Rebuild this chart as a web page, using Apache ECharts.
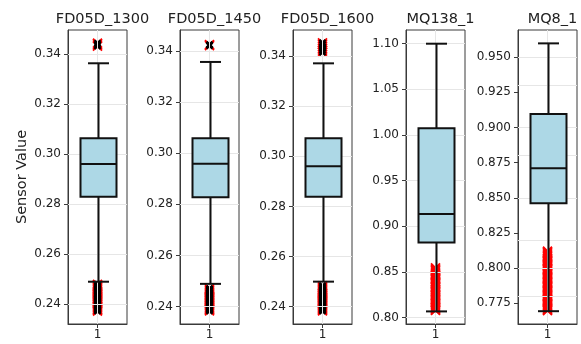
<!DOCTYPE html>
<html>
<head>
<meta charset="utf-8">
<script src="https://cdn.jsdelivr.net/npm/echarts@6/dist/echarts.min.js"></script>
<style>
html,body{margin:0;padding:0;background:#fff;}
#chart{width:581px;height:344px;}
</style>
</head>
<body>
<div id="chart"></div>
<script>
// ---- data ----
const panelNames = ['FD05D_1300', 'FD05D_1450', 'FD05D_1600', 'MQ138_1', 'MQ8_1'];
const categories = ['1'];
// [lower whisker, Q1, median, Q3, upper whisker]
const stats_FD05D_1300 = [0.2489, 0.2829, 0.2959, 0.3062, 0.3362];
const stats_FD05D_1450 = [0.2489, 0.2828, 0.2959, 0.3059, 0.3357];
const stats_FD05D_1600 = [0.2500, 0.2839, 0.2960, 0.3072, 0.3371];
const stats_MQ138_1 = [0.8069, 0.8824, 0.9135, 1.0073, 1.1000];
const stats_MQ8_1 = [0.7694, 0.8461, 0.8709, 0.9095, 0.9597];

const outliers_FD05D_1300 = [0.3431, 0.3436, 0.3442,
  0.2478, 0.2474, 0.2469, 0.2466, 0.2461, 0.2457, 0.2452, 0.2449, 0.2444, 0.2440, 0.2436,
  0.2431, 0.2427, 0.2422, 0.2419, 0.2414, 0.2410, 0.2405, 0.2401, 0.2397, 0.2392, 0.2388,
  0.2384, 0.2379, 0.2376, 0.2372];
const outliers_FD05D_1450 = [0.3421, 0.3425,
  0.2470, 0.2466, 0.2462, 0.2457, 0.2453, 0.2449, 0.2445, 0.2441, 0.2436, 0.2432, 0.2428,
  0.2424, 0.2419, 0.2415, 0.2411, 0.2407, 0.2403, 0.2398, 0.2394, 0.2390, 0.2387, 0.2383];
const outliers_FD05D_1600 = [0.3416, 0.3424, 0.3431, 0.3438, 0.3446, 0.3453,
  0.2483, 0.2478, 0.2474, 0.2469, 0.2465, 0.2460, 0.2456, 0.2452, 0.2447, 0.2443, 0.2438,
  0.2434, 0.2430, 0.2425, 0.2421, 0.2417, 0.2412, 0.2408, 0.2404, 0.2399, 0.2395, 0.2391,
  0.2387, 0.2383];
const outliers_MQ138_1 = [0.8546, 0.8531, 0.8518, 0.8502, 0.8489, 0.8473, 0.8461, 0.8444,
  0.8430, 0.8417, 0.8401, 0.8388, 0.8372, 0.8359, 0.8343, 0.8330, 0.8314, 0.8301, 0.8286,
  0.8272, 0.8257, 0.8243, 0.8228, 0.8214, 0.8199, 0.8185, 0.8170, 0.8156, 0.8141, 0.8127,
  0.8112, 0.8098, 0.8086, 0.8079];
const outliers_MQ8_1 = [0.8120, 0.8111, 0.8101, 0.8092, 0.8084, 0.8073, 0.8065, 0.8054,
  0.8046, 0.8036, 0.8027, 0.8018, 0.8008, 0.7999, 0.7990, 0.7981, 0.7971, 0.7962, 0.7953,
  0.7943, 0.7935, 0.7925, 0.7916, 0.7907, 0.7897, 0.7889, 0.7879, 0.7870, 0.7861, 0.7851,
  0.7843, 0.7833, 0.7824, 0.7815, 0.7805, 0.7797, 0.7787, 0.7778, 0.7769, 0.7760, 0.7751,
  0.7742, 0.7733, 0.7724, 0.7715, 0.7706, 0.7699];

const ticks_FD05D_1300 = [0.24, 0.26, 0.28, 0.30, 0.32, 0.34];
const ticks_FD05D_1450 = [0.24, 0.26, 0.28, 0.30, 0.32, 0.34];
const ticks_FD05D_1600 = [0.24, 0.26, 0.28, 0.30, 0.32, 0.34];
const ticks_MQ138_1 = [0.80, 0.85, 0.90, 0.95, 1.00, 1.05, 1.10];
const ticks_MQ8_1 = [0.775, 0.800, 0.825, 0.850, 0.875, 0.900, 0.925, 0.950];

const yRange_FD05D_1300 = [0.2320, 0.3495];
const yRange_FD05D_1450 = [0.2332, 0.3482];
const yRange_FD05D_1600 = [0.2331, 0.3504];
const yRange_MQ138_1 = [0.7931, 1.1150];
const yRange_MQ8_1 = [0.7603, 0.9692];

const tickDecimals = [2, 2, 2, 2, 3];
const yLabel = 'Sensor Value';

// ---- assembly ----
const allStats = [stats_FD05D_1300, stats_FD05D_1450, stats_FD05D_1600, stats_MQ138_1, stats_MQ8_1];
const allOutliers = [outliers_FD05D_1300, outliers_FD05D_1450, outliers_FD05D_1600, outliers_MQ138_1, outliers_MQ8_1];
const allTicks = [ticks_FD05D_1300, ticks_FD05D_1450, ticks_FD05D_1600, ticks_MQ138_1, ticks_MQ8_1];
const allRanges = [yRange_FD05D_1300, yRange_FD05D_1450, yRange_FD05D_1600, yRange_MQ138_1, yRange_MQ8_1];

const gridLeft = [68, 180, 293, 406, 518];
const gridW = 59, gridTop = 30, gridH = 294;
const textColor = '#222';
const spineColor = '#3a3a3a';
const gridColor = '#e6e6e6';
const font = 'DejaVu Sans';
const xSymbol = 'path://M0,0L10,10M10,0L0,10';

function renderBox(params, api) {
  const x = api.value(0);
  const low = api.coord([x, api.value(1)]);
  const q1 = api.coord([x, api.value(2)]);
  const med = api.coord([x, api.value(3)]);
  const q3 = api.coord([x, api.value(4)]);
  const high = api.coord([x, api.value(5)]);
  const cx = Math.round(low[0]) + 0.5;
  const hb = 18, hc = 10.5;
  const ls = {stroke: '#111', lineWidth: 2};
  return {
    type: 'group',
    children: [
      {type: 'line', shape: {x1: cx, y1: q3[1], x2: cx, y2: high[1]}, style: ls},
      {type: 'line', shape: {x1: cx, y1: q1[1], x2: cx, y2: low[1]}, style: ls},
      {type: 'line', shape: {x1: cx - hc, y1: high[1], x2: cx + hc, y2: high[1]}, style: ls},
      {type: 'line', shape: {x1: cx - hc, y1: low[1], x2: cx + hc, y2: low[1]}, style: ls},
      {type: 'rect', shape: {x: cx - hb, y: q3[1], width: 2 * hb, height: q1[1] - q3[1]},
        style: {fill: '#add8e6', stroke: '#111', lineWidth: 2}},
      {type: 'line', shape: {x1: cx - hb, y1: med[1], x2: cx + hb, y2: med[1]}, style: ls}
    ]
  };
}

const grids = [], xAxes = [], yAxes = [], series = [], titles = [];
panelNames.forEach((name, i) => {
  grids.push({left: gridLeft[i], top: gridTop, width: gridW, height: gridH,
    show: true, borderColor: spineColor, borderWidth: 1, backgroundColor: 'transparent'});
  titles.push({text: name, left: gridLeft[i] + gridW / 2, top: 7, textAlign: 'center',
    textStyle: {fontFamily: font, fontSize: 14.5, fontWeight: 'normal', color: textColor}});
  xAxes.push({type: 'category', gridIndex: i, data: categories, boundaryGap: true,
    axisLine: {show: true, lineStyle: {color: spineColor}},
    axisTick: {show: true, alignWithLabel: true, length: 4, lineStyle: {color: spineColor}},
    axisLabel: {fontFamily: font, fontSize: 12, color: textColor, margin: 5},
    splitLine: {show: false}});
  const dec = tickDecimals[i];
  yAxes.push({type: 'value', gridIndex: i, min: allRanges[i][0], max: allRanges[i][1],
    axisLine: {show: true, lineStyle: {color: spineColor}},
    axisTick: {show: true, length: 4, lineStyle: {color: spineColor}, customValues: allTicks[i]},
    axisLabel: {fontFamily: font, fontSize: 12, color: textColor, margin: 7,
      customValues: allTicks[i], formatter: v => Number(v).toFixed(dec)},
    splitLine: {show: false}});
  // grid lines
  series.push({type: 'scatter', xAxisIndex: i, yAxisIndex: i, data: [], z: 1, silent: true,
    markLine: {silent: true, symbol: 'none', label: {show: false}, animation: false,
      lineStyle: {color: gridColor, width: 1, type: 'solid'},
      data: allTicks[i].map(v => ({yAxis: v})).concat([{xAxis: 0}])}});
  // outliers
  const pts = allOutliers[i].map(v => [0, v]);
  series.push({type: 'scatter', xAxisIndex: i, yAxisIndex: i, data: pts, z: 3, silent: true,
    symbol: xSymbol, symbolSize: 9,
    itemStyle: {color: 'rgba(0,0,0,0)', borderColor: '#ff0000', borderWidth: 1.8, opacity: 1}});
  if (i < 3) {
    series.push({type: 'scatter', xAxisIndex: i, yAxisIndex: i, data: pts, z: 4, silent: true,
      symbol: xSymbol, symbolSize: 6,
      itemStyle: {color: 'rgba(0,0,0,0)', borderColor: '#000', borderWidth: 2.4, opacity: 1}});
  }
  // box
  series.push({type: 'custom', xAxisIndex: i, yAxisIndex: i, z: 5, silent: true,
    data: [[0].concat(allStats[i])], encode: {x: 0, y: [1, 2, 3, 4, 5]},
    renderItem: renderBox});
});

const chart = echarts.init(document.getElementById('chart'), null, {renderer: 'canvas'});
chart.setOption({
  animation: false,
  backgroundColor: '#fff',
  title: titles,
  grid: grids,
  xAxis: xAxes,
  yAxis: yAxes,
  series: series,
  graphic: [{type: 'text', x: 22, y: 177, rotation: Math.PI / 2,
    style: {text: yLabel, fontFamily: font, fontSize: 14.5, fill: textColor,
      align: 'center', verticalAlign: 'middle'}}]
});
</script>
</body>
</html>
